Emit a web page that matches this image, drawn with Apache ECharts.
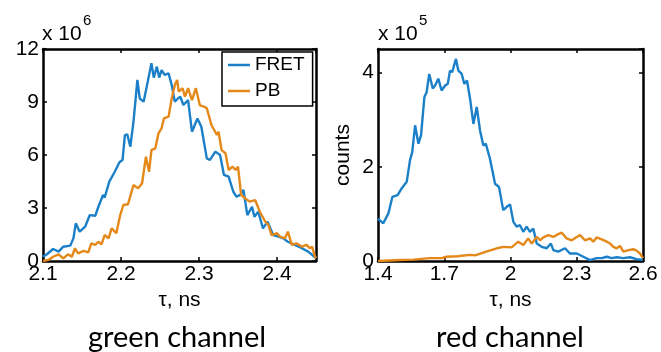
<!DOCTYPE html>
<html>
<head>
<meta charset="utf-8">
<script src="https://cdn.jsdelivr.net/npm/echarts@6/dist/echarts.min.js"></script>
<style>
  html, body { margin: 0; padding: 0; background: #fff; }
  #chart { width: 661px; height: 352px; }
</style>
</head>
<body>
<div id="chart"></div>
<script>
// green channel, counts in units of 1e6
const fretGreen = [
  [2.100,0.24],[2.105,0.38],[2.113,0.68],[2.120,0.53],[2.126,0.81],[2.135,0.87],[2.139,1.28],[2.142,2.13],
  [2.147,1.66],[2.154,1.94],[2.160,2.60],[2.167,2.56],[2.171,3.07],[2.177,3.74],[2.179,3.58],[2.185,4.49],
  [2.192,5.05],[2.198,5.59],[2.202,5.72],[2.205,7.13],[2.208,7.17],[2.212,6.47],[2.216,7.88],[2.221,10.25],
  [2.224,9.20],[2.229,9.02],[2.233,9.87],[2.239,11.19],[2.242,10.38],[2.246,11.00],[2.249,10.38],[2.252,10.81],
  [2.256,10.53],[2.261,10.62],[2.265,9.96],[2.269,9.02],[2.273,9.20],[2.276,9.30],[2.280,8.83],[2.286,9.11],
  [2.291,7.32],[2.298,8.07],[2.303,7.60],[2.310,5.81],[2.314,5.72],[2.321,6.19],[2.327,6.00],[2.332,4.87],
  [2.338,4.77],[2.344,3.92],[2.348,3.64],[2.353,3.74],[2.357,4.02],[2.362,2.60],[2.368,3.07],[2.371,2.51],
  [2.376,2.79],[2.382,1.85],[2.388,2.22],[2.395,1.47],[2.402,1.38],[2.408,1.28],[2.414,1.09],[2.423,0.91],
  [2.432,0.72],[2.440,0.53],[2.448,0.24],[2.450,0.15]
]
const pbGreen = [
  [2.100,0.00],[2.107,0.06],[2.113,0.24],[2.120,0.38],[2.126,0.15],[2.132,0.38],[2.137,0.24],[2.141,0.72],
  [2.145,0.43],[2.152,0.57],[2.158,0.49],[2.162,1.00],[2.167,0.91],[2.171,1.09],[2.175,0.94],[2.179,1.47],
  [2.184,1.28],[2.188,1.85],[2.194,1.57],[2.199,2.60],[2.203,3.17],[2.209,3.21],[2.216,4.30],[2.222,4.11],
  [2.227,4.40],[2.232,5.90],[2.236,5.05],[2.239,6.28],[2.244,6.38],[2.248,7.22],[2.252,7.51],[2.255,8.07],
  [2.261,8.17],[2.265,9.20],[2.269,9.96],[2.272,10.25],[2.274,9.59],[2.279,9.78],[2.282,9.30],[2.286,9.78],
  [2.291,9.11],[2.296,9.78],[2.301,8.83],[2.307,8.73],[2.310,8.64],[2.316,7.70],[2.323,7.13],[2.325,7.32],
  [2.329,6.28],[2.334,6.09],[2.338,5.15],[2.343,5.34],[2.347,5.15],[2.350,5.34],[2.354,3.74],[2.359,3.55],
  [2.365,3.36],[2.372,3.45],[2.378,2.79],[2.385,2.22],[2.389,2.04],[2.393,1.47],[2.400,1.57],[2.404,1.38],
  [2.410,1.28],[2.414,1.66],[2.419,0.91],[2.425,1.00],[2.432,0.81],[2.438,0.91],[2.442,0.72],[2.445,0.81],
  [2.448,0.34],[2.450,0.15]
]
// red channel, counts in units of 1e5
const fretRed = [
  [1.400,0.90],[1.424,0.80],[1.447,1.01],[1.465,1.36],[1.489,1.40],[1.507,1.54],[1.530,1.68],[1.545,2.14],
  [1.555,2.31],[1.568,2.88],[1.583,2.49],[1.595,2.67],[1.610,3.48],[1.620,3.58],[1.632,3.97],[1.648,3.66],
  [1.658,3.72],[1.673,3.87],[1.688,3.62],[1.703,3.72],[1.716,3.76],[1.726,4.04],[1.736,4.01],[1.753,4.29],
  [1.764,4.04],[1.779,3.97],[1.791,3.76],[1.803,3.83],[1.817,3.44],[1.832,2.91],[1.847,3.27],[1.862,2.77],
  [1.877,2.45],[1.888,2.49],[1.907,2.17],[1.930,1.64],[1.948,1.57],[1.967,1.08],[1.983,1.15],[1.998,1.20],
  [2.013,0.83],[2.028,0.73],[2.043,0.76],[2.058,0.62],[2.073,0.73],[2.088,0.62],[2.103,0.69],[2.119,0.37],
  [2.141,0.30],[2.164,0.27],[2.183,0.37],[2.194,0.23],[2.216,0.20],[2.247,0.27],[2.269,0.16],[2.300,0.16],
  [2.330,0.09],[2.360,0.02],[2.390,0.06],[2.413,0.06],[2.436,0.09],[2.458,0.06],[2.481,0.08],[2.511,0.06],
  [2.541,0.08],[2.571,0.04],[2.600,0.02]
]
const pbRed = [
  [1.400,0.00],[1.500,0.02],[1.560,0.03],[1.635,0.06],[1.688,0.06],[1.710,0.09],[1.760,0.10],[1.817,0.13],
  [1.840,0.12],[1.890,0.20],[1.938,0.27],[1.968,0.30],[2.005,0.29],[2.035,0.41],[2.058,0.34],[2.080,0.48],
  [2.096,0.37],[2.119,0.51],[2.134,0.44],[2.149,0.50],[2.171,0.55],[2.194,0.51],[2.216,0.57],[2.232,0.60],
  [2.254,0.48],[2.277,0.44],[2.300,0.51],[2.315,0.55],[2.337,0.44],[2.360,0.48],[2.375,0.41],[2.390,0.50],
  [2.413,0.46],[2.436,0.41],[2.451,0.37],[2.466,0.30],[2.481,0.27],[2.496,0.32],[2.511,0.20],[2.534,0.23],
  [2.556,0.25],[2.571,0.22],[2.586,0.16],[2.600,0.06]
]
const seriesNames = ['FRET', 'PB']
const xLabel = 'τ, ns'
const yLabelRed = 'counts'
const panelTitles = ['green channel', 'red channel']

const BLUE = '#1b80c8'
const ORANGE = '#e5881a'
const FONT = 'Liberation Sans'

const fmt = v => String(+v.toFixed(1))

function xAx(grid, pos, min, max, interval, showMax) {
  const bottom = pos === 'bottom'
  return {
    type: 'value', gridIndex: grid, position: pos, min, max, interval,
    axisLine: { onZero: false, lineStyle: { color: '#000', width: 2.5 } },
    axisTick: { inside: true, length: 4, lineStyle: { color: '#000', width: 1.5 } },
    axisLabel: { show: bottom, showMinLabel: true, showMaxLabel: showMax, margin: 3, formatter: fmt,
      fontFamily: FONT, fontSize: 21, color: '#000' },
    splitLine: { show: false },
    name: bottom ? xLabel : '', nameLocation: 'middle', nameGap: 29,
    nameTextStyle: { fontFamily: FONT, fontSize: 21, color: '#000' }
  }
}
function yAx(grid, pos, max, interval, showMax, name) {
  const left = pos === 'left'
  return {
    type: 'value', gridIndex: grid, position: pos, min: 0, max, interval,
    axisLine: { onZero: false, lineStyle: { color: '#000', width: 2.5 } },
    axisTick: { inside: true, length: 4, lineStyle: { color: '#000', width: 1.5 } },
    axisLabel: { show: left, showMinLabel: true, showMaxLabel: showMax, margin: 4,
      fontFamily: FONT, fontSize: 21, color: '#000' },
    splitLine: { show: false },
    name: left && name ? name : '', nameLocation: 'middle', nameGap: 24,
    nameTextStyle: { fontFamily: FONT, fontSize: 21, color: '#000' }
  }
}

const chart = echarts.init(document.getElementById('chart'))
chart.setOption({
  backgroundColor: '#fff',
  animation: false,
  grid: [
    { left: 43, top: 49, width: 273, height: 212 },
    { left: 378, top: 49, width: 265, height: 212 }
  ],
  xAxis: [
    xAx(0, 'bottom', 2.1, 2.45, 0.1, false),
    xAx(0, 'top', 2.1, 2.45, 0.1, false),
    xAx(1, 'bottom', 1.4, 2.6, 0.3, true),
    xAx(1, 'top', 1.4, 2.6, 0.3, true)
  ],
  yAxis: [
    yAx(0, 'left', 12, 3, true),
    yAx(0, 'right', 12, 3, true),
    yAx(1, 'left', 4.5, 2, false, yLabelRed),
    yAx(1, 'right', 4.5, 2, false)
  ],
  legend: {
    data: seriesNames,
    left: 222, top: 52, orient: 'vertical',
    icon: 'rect', itemWidth: 22, itemHeight: 2.5, itemGap: 6, itemTextGap: 5,
    padding: [3, 8, 5, 6],
    backgroundColor: '#fff', borderColor: '#000', borderWidth: 1.5,
    textStyle: { fontFamily: FONT, fontSize: 19, color: '#000', lineHeight: 20 }
  },
  series: [
    { name: seriesNames[0], type: 'line', xAxisIndex: 0, yAxisIndex: 0, data: fretGreen,
      showSymbol: false, lineStyle: { color: BLUE, width: 2.4 }, itemStyle: { color: BLUE } },
    { name: seriesNames[1], type: 'line', xAxisIndex: 0, yAxisIndex: 0, data: pbGreen,
      showSymbol: false, lineStyle: { color: ORANGE, width: 2.4 }, itemStyle: { color: ORANGE } },
    { name: seriesNames[0], type: 'line', xAxisIndex: 2, yAxisIndex: 2, data: fretRed,
      showSymbol: false, lineStyle: { color: BLUE, width: 2.4 }, itemStyle: { color: BLUE } },
    { name: seriesNames[1], type: 'line', xAxisIndex: 2, yAxisIndex: 2, data: pbRed,
      showSymbol: false, lineStyle: { color: ORANGE, width: 2.4 }, itemStyle: { color: ORANGE } }
  ],
  graphic: [
    // exponent labels
    { type: 'text', left: 42, top: 24, style: { text: 'x 10', font: '21px "Liberation Sans"', fill: '#000' } },
    { type: 'text', left: 83, top: 13, style: { text: '6', font: '15px "Liberation Sans"', fill: '#000' } },
    { type: 'text', left: 378, top: 24, style: { text: 'x 10', font: '21px "Liberation Sans"', fill: '#000' } },
    { type: 'text', left: 419, top: 13, style: { text: '5', font: '15px "Liberation Sans"', fill: '#000' } },
    // panel titles
    { type: 'text', x: 177, y: 338, style: { text: panelTitles[0], font: '29px Lato', fill: '#000',
      textAlign: 'center', textVerticalAlign: 'middle' } },
    { type: 'text', x: 510, y: 338, style: { text: panelTitles[1], font: '29px Lato', fill: '#000',
      textAlign: 'center', textVerticalAlign: 'middle' } }
  ]
})
</script>
</body>
</html>
